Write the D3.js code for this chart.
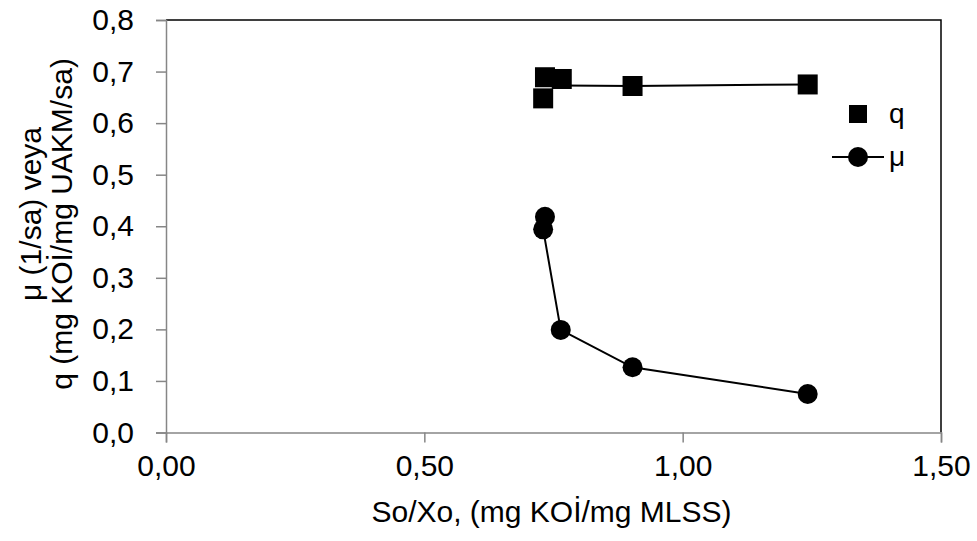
<!DOCTYPE html>
<html><head><meta charset="utf-8">
<script src="https://cdn.jsdelivr.net/npm/d3@7"></script>
<style>body{margin:0;background:#fff}svg{display:block}text{font-family:"Liberation Sans",Arial,sans-serif;fill:#000}</style>
</head><body>
<svg id="c" width="977" height="541"></svg>
<script>
const qX = [0.7335, 0.766, 0.730, 0.903, 1.242];
const qY = [0.689, 0.6856, 0.648, 0.672, 0.675];
const qLineX = [0.766, 0.903, 1.242];
const qLineY = [0.673, 0.672, 0.675];
const muX = [0.7335, 0.730, 0.764, 0.903, 1.242];
const muY = [0.4185, 0.394, 0.199, 0.1265, 0.0747];
const xTicks = [0, 0.5, 1.0, 1.5];
const yTicks = [0, 0.1, 0.2, 0.3, 0.4, 0.5, 0.6, 0.7, 0.8];
const xTitle = "So/Xo, (mg KOİ/mg MLSS)";
const yTitle1 = "μ (1/sa) veya";
const yTitle2 = "q (mg KOİ/mg UAKM/sa)";
const legendLabels = ["q", "μ"];

const svg = d3.select("#c");
const L = 166, R = 941, T = 20, B = 432.5;
const x = d3.scaleLinear().domain([0, 1.5]).range([L, R]);
const y = d3.scaleLinear().domain([0, 0.8]).range([B, T]);
const fmt = d => d3.format(".2f")(d).replace(".", ",");
const fmtY = d => d3.format(".1f")(d).replace(".", ",");
const FS = 30;

svg.append("path").attr("d", `M${L},${T}H${R}V${B}`).attr("fill", "none").attr("stroke", "#000").attr("stroke-width", 1.5);

const xa = svg.append("g").attr("transform", `translate(0,${B})`)
  .call(d3.axisBottom(x).tickValues(xTicks).tickFormat(fmt).tickSize(10).tickPadding(12));
const ya = svg.append("g").attr("transform", `translate(${L},0)`)
  .call(d3.axisLeft(y).tickValues(yTicks).tickFormat(fmtY).tickSize(10).tickPadding(22));
[xa, ya].forEach(a => {
  a.select(".domain").attr("stroke", "#868686").attr("stroke-width", 1.5);
  a.selectAll(".tick line").attr("stroke", "#868686").attr("stroke-width", 1.5);
  a.selectAll(".tick text").attr("font-size", FS).attr("font-family", "Liberation Sans, Arial, sans-serif").attr("fill", "#000");
});

svg.append("text").attr("x", (L + R) / 2 - 2).attr("y", 522).attr("text-anchor", "middle").attr("font-size", FS).text(xTitle);
svg.append("text").attr("transform", `translate(41,214) rotate(-90)`).attr("text-anchor", "middle").attr("font-size", FS).text(yTitle1);
svg.append("text").attr("transform", `translate(72,224) rotate(-90)`).attr("text-anchor", "middle").attr("font-size", FS).text(yTitle2);

const line = d3.line().x(d => x(d[0])).y(d => y(d[1]));
svg.append("path").datum(d3.zip(qLineX, qLineY)).attr("d", line).attr("fill", "none").attr("stroke", "#000").attr("stroke-width", 2);
svg.append("path").datum(d3.zip(muX, muY)).attr("d", line).attr("fill", "none").attr("stroke", "#000").attr("stroke-width", 2);

const S = 20;
svg.append("g").selectAll("rect").data(d3.zip(qX, qY)).join("rect")
  .attr("x", d => x(d[0]) - S / 2).attr("y", d => y(d[1]) - S / 2).attr("width", S).attr("height", S).attr("fill", "#000");
svg.append("g").selectAll("circle").data(d3.zip(muX, muY)).join("circle")
  .attr("cx", d => x(d[0])).attr("cy", d => y(d[1])).attr("r", 10).attr("fill", "#000");

const lg = svg.append("g");
lg.append("rect").attr("x", 858 - 9).attr("y", 114 - 9).attr("width", 18).attr("height", 18).attr("fill", "#000");
lg.append("text").attr("x", 889).attr("y", 114 + 9).attr("font-size", 28).text(legendLabels[0]);
lg.append("line").attr("x1", 832).attr("x2", 884).attr("y1", 157).attr("y2", 157).attr("stroke", "#000").attr("stroke-width", 2);
lg.append("circle").attr("cx", 858).attr("cy", 157).attr("r", 10).attr("fill", "#000");
lg.append("text").attr("x", 889).attr("y", 157 + 9).attr("font-size", 28).text(legendLabels[1]);
</script>
</body></html>
